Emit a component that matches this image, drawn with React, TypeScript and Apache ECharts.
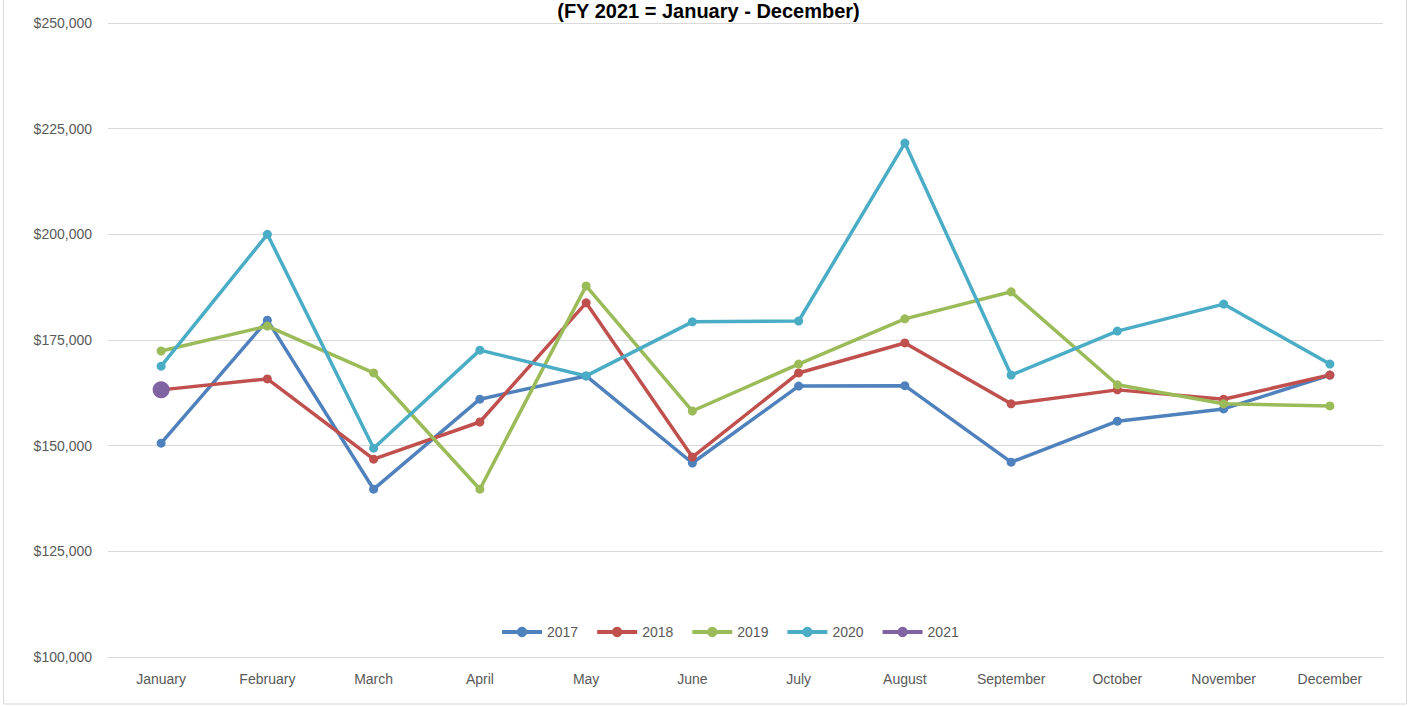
import React, { useEffect, useRef } from "react";
import * as echarts from "echarts";

const months = ["January", "February", "March", "April", "May", "June", "July", "August", "September", "October", "November", "December"];
const s2017 = [150600, 179700, 139700, 161000, 166500, 145900, 164100, 164200, 146100, 155800, 158700, 166700];
const s2018 = [163200, 165800, 146800, 155600, 183800, 147300, 167200, 174300, 159900, 163200, 161000, 166700];
const s2019 = [172400, 178300, 167200, 139700, 187800, 158200, 169300, 180000, 186400, 164400, 159900, 159400];
const s2020 = [168800, 200000, 149400, 172600, 166500, 179300, 179500, 221600, 166700, 177100, 183500, 169300];
const s2021 = [163200];
const seriesNames = ["2017", "2018", "2019", "2020", "2021"];
const colors = ["#4f81bd", "#c0504d", "#9bbb59", "#4bacc6", "#8064a2"];
const titleText = "(FY 2021 = January - December)";

const FONT = "'Liberation Sans', 'Open Sans', sans-serif";

export default function App() {
  const ref = useRef<HTMLDivElement>(null);
  useEffect(() => {
    if (!ref.current) return;
    const chart = echarts.init(ref.current, null, { renderer: "svg" });
    const data = [s2017, s2018, s2019, s2020, s2021];
    chart.setOption({
      animation: false,
      color: colors,
      textStyle: { fontFamily: FONT },
      title: {
        text: titleText,
        left: "center",
        top: -4,
        textStyle: { fontSize: 20, fontWeight: "bold", color: "#000", fontFamily: FONT },
      },
      graphic: [
        {
          type: "rect",
          shape: { x: 3.5, y: -5, width: 1403, height: 709 },
          style: { fill: "none", stroke: "#d9d9d9", lineWidth: 1 },
          silent: true,
        },
      ],
      legend: {
        top: 620,
        left: 495,
        itemWidth: 40,
        itemHeight: 13,
        itemGap: 17,
        lineStyle: { width: 4 },
        textStyle: { fontSize: 14, color: "#595959", fontFamily: FONT },
        data: seriesNames,
      },
      grid: { left: 108, right: 34, top: 23, bottom: 50 },
      xAxis: {
        type: "category",
        data: months,
        boundaryGap: true,
        axisLine: { lineStyle: { color: "#d9d9d9", width: 1 } },
        axisTick: { show: false },
        axisLabel: { color: "#595959", fontSize: 14, margin: 15, fontFamily: FONT },
      },
      yAxis: {
        type: "value",
        min: 100000,
        max: 250000,
        interval: 25000,
        axisLine: { show: false },
        axisTick: { show: false },
        splitLine: { lineStyle: { color: "#d9d9d9", width: 1 } },
        axisLabel: {
          color: "#595959",
          fontSize: 14,
          margin: 16,
          fontFamily: FONT,
          formatter: (v: number) => "$" + v.toLocaleString("en-US"),
        },
      },
      series: data.map((d, i) => ({
        name: seriesNames[i],
        type: "line",
        data: d,
        symbol: "circle",
        symbolSize: i === 4 ? 17 : 9,
        lineStyle: { width: 3.5, color: colors[i] },
        itemStyle: { color: colors[i] },
      })),
    });
    return () => chart.dispose();
  }, []);
  return (
    <div
      ref={ref}
      style={{ position: "absolute", left: 0, top: 0, width: 1417, height: 707, background: "#fff" }}
    />
  );
}
